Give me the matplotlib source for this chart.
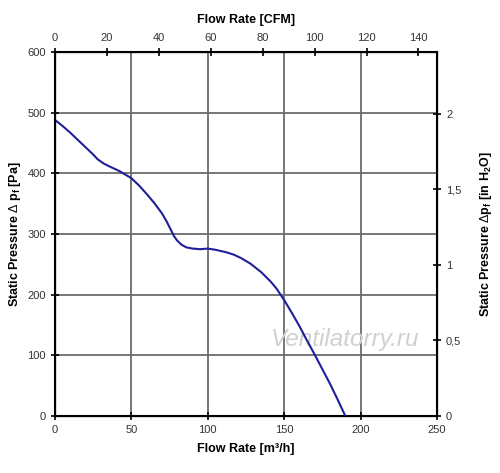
import numpy as np
import matplotlib
matplotlib.use('Agg')
import matplotlib.pyplot as plt

plt.rcParams['font.family'] = ['Liberation Sans', 'DejaVu Sans']
plt.rcParams['mathtext.fontset'] = 'custom'
plt.rcParams['mathtext.rm'] = 'Liberation Sans'
plt.rcParams['mathtext.bf'] = 'Liberation Sans:bold'

# fan curve
flow_m3h = [0, 5, 10, 15, 20, 25, 28, 32, 36, 42, 50, 55, 60, 65, 70, 73, 76, 78,
            80, 83, 86, 90, 95, 100, 105, 112, 117, 122, 128, 135, 141, 145, 150,
            155, 160, 165, 170, 175, 180, 185, 190]
pressure_pa = [488, 478, 467, 455, 443, 431, 423, 416, 411, 404, 392, 380, 366, 351,
               334, 321, 306, 296, 289, 282, 278, 276, 275, 276, 274, 270, 266, 260,
               251, 237, 222, 210, 191, 170, 148, 124, 101, 77, 53, 27, 0]

m3h_ticks = [0, 50, 100, 150, 200, 250]
pa_ticks = [0, 100, 200, 300, 400, 500, 600]
cfm_ticks = [0, 20, 40, 60, 80, 100, 120, 140]
inh2o_ticks = [0, 0.5, 1, 1.5, 2]
inh2o_labels = ['0', '0,5', '1', '1,5', '2']

fig = plt.figure(figsize=(5, 4.73), dpi=100)
ax = fig.add_axes([0.11, 0.1205, 0.764, 0.7695])

ax.plot(flow_m3h, pressure_pa, color='#1f1f9a', lw=1.5, zorder=3)
ax.set_xlim(0, 250)
ax.set_ylim(0, 600)
ax.set_xticks(m3h_ticks)
ax.set_yticks(pa_ticks)
ax.grid(True, color='#6b6b6b', lw=1.3)
for s in ax.spines.values():
    s.set_linewidth(1.5)
ax.tick_params(direction='inout', length=6, width=1.2, labelsize=8, labelcolor='#333333')
ax.set_xlabel('Flow Rate [m³/h]', fontsize=9, fontweight='bold', labelpad=6)
ax.set_ylabel(r'Static Pressure $\Delta$ p$_\mathbf{f}$ [Pa]', fontsize=9,
              fontweight='bold', labelpad=3)

top = ax.twiny()
top.set_xlim(0, 250 / 1.699)
top.set_xticks(cfm_ticks)
top.tick_params(direction='inout', length=6, width=1.2, labelsize=8, labelcolor='#333333')
top.set_xlabel('Flow Rate [CFM]', fontsize=9, fontweight='bold', labelpad=7)

right = ax.twinx()
right.set_ylim(0, 600 / 249.09)
right.set_yticks(inh2o_ticks)
right.set_yticklabels(inh2o_labels)
right.tick_params(direction='inout', length=6, width=1.2, labelsize=8, labelcolor='#333333')
right.set_ylabel(r'Static Pressure $\Delta$p$_\mathbf{f}$ [in H$_\mathbf{2}$O]', fontsize=9,
                 fontweight='bold', labelpad=12)

ax.text(0.76, 0.21, 'Ventilatorry.ru', transform=ax.transAxes, fontsize=17.5,
        style='italic', color='#d0d0d0', ha='center', va='center', zorder=2)

fig.savefig('out.png', dpi=100)
